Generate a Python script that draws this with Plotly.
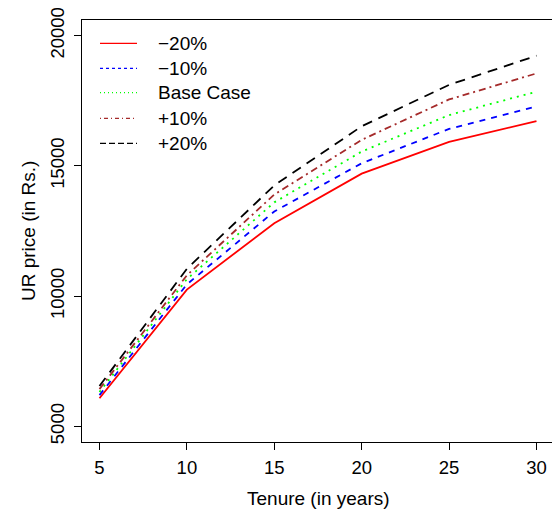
import plotly.graph_objects as go

tenure = [5, 10, 15, 20, 25, 30]
series_names = ["\u221220%", "\u221210%", "Base Case", "+10%", "+20%"]
minus20 = [6080, 10250, 12800, 14700, 15920, 16720]
minus10 = [6200, 10450, 13250, 15100, 16420, 17280]
base = [6320, 10650, 13600, 15550, 16950, 17850]
plus10 = [6430, 10800, 13900, 16000, 17550, 18550]
plus20 = [6550, 11050, 14250, 16520, 18110, 19230]
x_ticks = [5, 10, 15, 20, 25, 30]
y_ticks = [5000, 10000, 15000, 20000]
y_tick_labels = ["5000", "10000", "15000", "20000"]

series = [minus20, minus10, base, plus10, plus20]
colors = ["#FF0000", "#0000FF", "#00FF00", "#A52A2A", "#000000"]
dashes = ["solid", "6px,6px", "2px,5px", "7px,4px,2px,4px", "10px,7px"]
legend_dashes = ["solid", "3px,3px", "1px,3px", "1px,3px,4px,3px", "6px,3px"]

W, H = 552, 514
L, R, T, B = 82, 0, 20, 72
pw, ph = W - L - R, H - T - B

fig = go.Figure()
for name, vals, c, d in zip(series_names, series, colors, dashes):
    fig.add_trace(go.Scatter(x=tenure, y=vals, mode="lines", name=name,
                             line=dict(color=c, width=1.8, dash=d), showlegend=False))

FONT = "Liberation Sans, Arial, sans-serif"

# manual legend (R-style, no box)
leg_rows = [43.3, 68.3, 92.7, 118.3, 143.3]
shapes = []
annotations = []
for name, c, d, py in zip(series_names, colors, legend_dashes, leg_rows):
    yp = (H - B - py) / ph
    shapes.append(dict(type="line", xref="paper", yref="paper",
                       x0=(100 - L) / pw, x1=(137 - L) / pw, y0=yp, y1=yp,
                       line=dict(color=c, width=1.3, dash=d)))
    annotations.append(dict(text=name, xref="paper", yref="paper",
                            x=(156 - L) / pw, y=yp, xanchor="left", yanchor="middle",
                            showarrow=False, font=dict(size=19, color="black", family=FONT)))

# axis titles
annotations.append(dict(text="Tenure (in years)", xref="paper", yref="paper",
                        x=(318 - L) / pw, y=(H - B - 498) / ph, xanchor="center", yanchor="middle",
                        showarrow=False, font=dict(size=19, color="black", family=FONT)))
annotations.append(dict(text="UR price (in Rs.)", xref="paper", yref="paper",
                        x=(28 - L) / pw, y=0.5, xanchor="center", yanchor="middle", textangle=-90,
                        showarrow=False, font=dict(size=19, color="black", family=FONT)))

fig.update_layout(
    width=W, height=H,
    margin=dict(l=L, r=R, t=T, b=B, pad=0),
    paper_bgcolor="white", plot_bgcolor="white",
    font=dict(family=FONT, size=18.5, color="black"),
    shapes=shapes, annotations=annotations,
    showlegend=False,
)
fig.update_xaxes(range=[4, 4 + pw / 17.48], tickvals=x_ticks, ticks="outside", ticklen=7,
                 tickcolor="black", showline=True, linecolor="black", linewidth=1, mirror=True,
                 showgrid=False, zeroline=False, ticklabelstandoff=2)
fig.update_yaxes(range=[4400, 20600], tickvals=y_ticks, ticktext=y_tick_labels,
                 ticks="outside", ticklen=7,
                 tickcolor="black", showline=True, linecolor="black", linewidth=1, mirror=False,
                 showgrid=False, zeroline=False, tickangle=-90, ticklabelstandoff=3)

fig.write_html("out.html")
